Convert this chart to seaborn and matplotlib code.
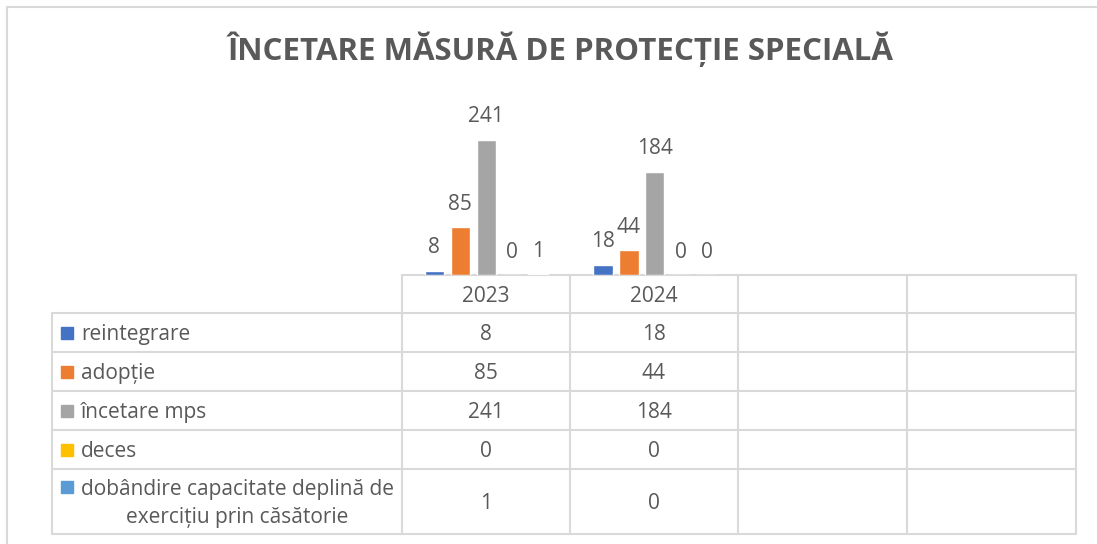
import numpy as np
import pandas as pd
import matplotlib
matplotlib.use("Agg")
import matplotlib.pyplot as plt
from matplotlib.patches import Rectangle
import seaborn as sns

# data
years = ["2023", "2024"]
series = ["reintegrare", "adopție", "încetare mps", "deces",
          "dobândire capacitate deplină de exercițiu prin căsătorie"]
reintegrare = [8, 18]
adoptie = [85, 44]
incetare_mps = [241, 184]
deces = [0, 0]
dobandire = [1, 0]
colors = ["#4472C4", "#ED7D31", "#A5A5A5", "#FFC000", "#5B9BD5"]

values = [reintegrare, adoptie, incetare_mps, deces, dobandire]
df = pd.DataFrame({
    "year": [y for s in series for y in years],
    "serie": [s for s in series for y in years],
    "value": [v for vals in values for v in vals],
})

sns.set_style("white")
plt.rcParams["font.family"] = ["Open Sans", "DejaVu Sans"]
txt = "#595959"
grid = "#D9D9D9"

W, H = 1097, 544
fig = plt.figure(figsize=(W / 100, H / 100), dpi=100)

# overlay in pixel coords for frame + data table
ov = fig.add_axes([0, 0, 1, 1])
ov.set_xlim(0, W)
ov.set_ylim(H, 0)
ov.axis("off")
lw = 1.5

# chart frame
ov.plot([7, 7], [7, H], color=grid, lw=lw)
ov.plot([7, W], [7, 7], color=grid, lw=lw)

# table grid
rows = [313, 352, 391, 430, 469, 534]
cols = [402, 570, 738, 907, 1076]
ov.plot([402, 1076], [275, 275], color=grid, lw=lw)
for y in rows:
    ov.plot([52, 1076], [y, y], color=grid, lw=lw)
for x in cols:
    ov.plot([x, x], [275, 534], color=grid, lw=lw)
ov.plot([52, 52], [313, 534], color=grid, lw=lw)

fs = 15
dy = 2
col_c = [(cols[i] + cols[i + 1]) / 2 for i in range(len(cols) - 1)]
for i, y in enumerate(years):
    ov.text(col_c[i], 294 + dy, y, ha="center", va="center", fontsize=fs, color=txt)

for r, (name, vals, c) in enumerate(zip(series, values, colors)):
    yc = (rows[r] + rows[r + 1]) / 2
    if r == len(series) - 1:
        ym = 487
        ov.add_patch(Rectangle((61, ym - 6), 12, 12, color=c))
        ov.text(81, ym + dy, "dobândire capacitate deplină de", ha="left", va="center",
                fontsize=fs, color=txt)
        ov.text(237, 515 + dy, "exercițiu prin căsătorie", ha="center", va="center",
                fontsize=fs, color=txt)
    else:
        ov.add_patch(Rectangle((61, yc - 6), 12, 12, color=c))
        ov.text(81, yc + dy, name, ha="left", va="center", fontsize=fs, color=txt)
    for i, v in enumerate(vals):
        ov.text(col_c[i], yc + dy, str(v), ha="center", va="center", fontsize=fs, color=txt)

# title
ov.text(560, 49, "ÎNCETARE MĂSURĂ DE PROTECȚIE SPECIALĂ", ha="center", va="center",
        fontsize=22.5, fontweight="bold", color=txt)

# bar axes
base = 275
top = base - 300 * 0.562
ax = fig.add_axes([402 / W, (H - base) / H, (1076 - 402) / W, (base - top) / H])
ax.patch.set_alpha(0)
sns.barplot(data=df, x="year", y="value", hue="serie", hue_order=series, order=years,
            palette=colors, width=0.77, gap=0.25, ax=ax, legend=False, saturation=1)
ax.set_xlim(-0.5, 3.5)
ax.set_ylim(0, 300)
for cont in ax.containers:
    ax.bar_label(cont, padding=9, fontsize=fs, color=txt)
ax.axis("off")

fig.savefig("out.png", dpi=100)
